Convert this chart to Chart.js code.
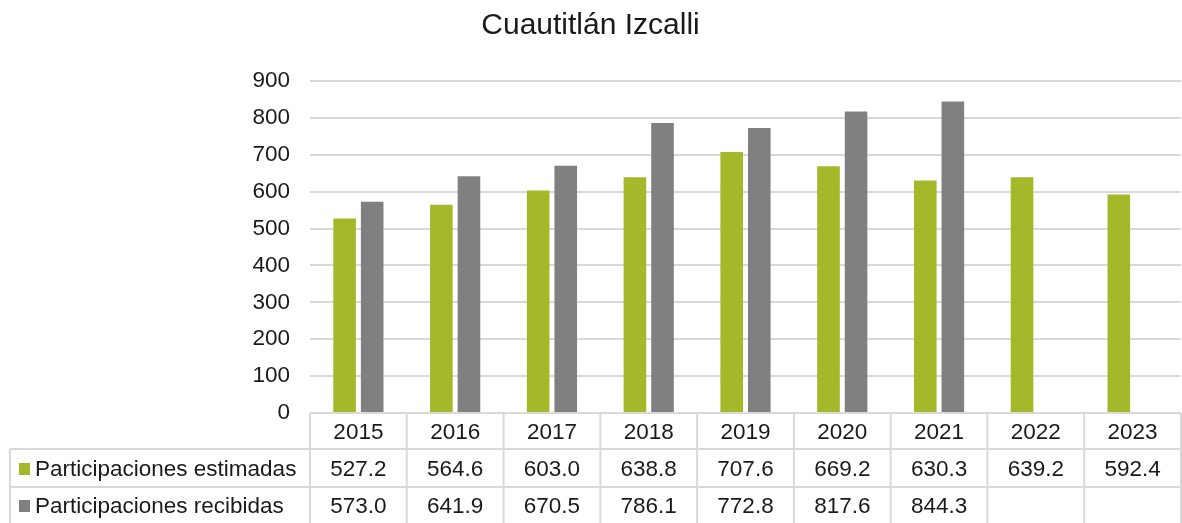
<!DOCTYPE html>
<html>
<head>
<meta charset="utf-8">
<script src="https://cdn.jsdelivr.net/npm/chart.js@4.4.0/dist/chart.umd.min.js"></script>
<style>
  html, body { margin: 0; padding: 0; background: #fff; }
  #wrap { width: 1182px; height: 523px; }
</style>
</head>
<body>
<div id="wrap"><canvas id="chart"></canvas></div>
<script>
const years = ['2015', '2016', '2017', '2018', '2019', '2020', '2021', '2022', '2023'];
const estimadas = [527.2, 564.6, 603.0, 638.8, 707.6, 669.2, 630.3, 639.2, 592.4];
const recibidas = [573.0, 641.9, 670.5, 786.1, 772.8, 817.6, 844.3, null, null];
const seriesNames = ['Participaciones estimadas', 'Participaciones recibidas'];
const seriesColors = ['#a4b82a', '#808080'];

const FONT = '"Liberation Sans", Arial, sans-serif';
const LINE = '#d9d9d9';

// draws the data table under the plot, columns follow the x scale
const dataTable = {
    id: 'dataTable',
    afterDraw(chart) {
        const ctx = chart.ctx;
        const area = chart.chartArea;
        const x = chart.scales.x;
        const colW = (area.right - area.left) / years.length;
        const top = area.bottom;
        const rows = [top, top + 36, top + 74, chart.height];
        const tableLeft = 10;

        ctx.save();
        ctx.strokeStyle = LINE;
        ctx.lineWidth = 2;
        ctx.beginPath();
        ctx.moveTo(area.left, rows[0]); ctx.lineTo(area.right, rows[0]);
        ctx.moveTo(tableLeft, rows[1]); ctx.lineTo(area.right, rows[1]);
        ctx.moveTo(tableLeft, rows[2]); ctx.lineTo(area.right, rows[2]);
        ctx.moveTo(tableLeft, rows[1]); ctx.lineTo(tableLeft, rows[3]);
        for (let i = 0; i <= years.length; i++) {
            let px = area.left + i * colW;
            ctx.moveTo(px, rows[0]); ctx.lineTo(px, rows[3]);
        }
        ctx.stroke();

        ctx.fillStyle = '#1a1a1a';
        ctx.font = '22.5px ' + FONT;
        ctx.textAlign = 'center';
        ctx.textBaseline = 'middle';
        years.forEach((y, i) => {
            ctx.fillText(y, x.getPixelForValue(i), (rows[0] + rows[1]) / 2 + 2);
        });
        [estimadas, recibidas].forEach((vals, r) => {
            let cy = (rows[r + 1] + rows[r + 2]) / 2 + 2;
            vals.forEach((v, i) => {
                if (v !== null) ctx.fillText(v.toFixed(1), x.getPixelForValue(i), cy);
            });
            ctx.fillStyle = seriesColors[r];
            ctx.fillRect(19, cy - 7, 11, 12);
            ctx.fillStyle = '#1a1a1a';
            ctx.textAlign = 'left';
            ctx.fillText(seriesNames[r], 35, cy);
            ctx.textAlign = 'center';
        });
        ctx.restore();
    }
};

new Chart(document.getElementById('chart'), {
    type: 'bar',
    data: {
        labels: years,
        datasets: [
            {
                label: seriesNames[0],
                data: estimadas,
                backgroundColor: seriesColors[0],
                categoryPercentage: 0.57,
                barPercentage: 0.82,
            },
            {
                label: seriesNames[1],
                data: recibidas,
                backgroundColor: seriesColors[1],
                categoryPercentage: 0.57,
                barPercentage: 0.82,
            },
        ],
    },
    options: {
        responsive: true,
        maintainAspectRatio: false,
        animation: false,
        layout: { padding: { left: 0, right: 1, bottom: 110 } },
        plugins: {
            legend: { display: false },
            tooltip: { enabled: false },
            title: {
                display: true,
                text: 'Cuautitlán Izcalli',
                color: '#1a1a1a',
                font: { family: FONT, size: 30, weight: 'normal' },
                padding: { top: 8, bottom: 37 },
            },
        },
        scales: {
            x: {
                display: false,
            },
            y: {
                min: 0,
                max: 900,
                ticks: {
                    stepSize: 100,
                    color: '#1a1a1a',
                    font: { family: FONT, size: 22.5 },
                    padding: 20,
                },
                grid: { color: LINE, lineWidth: 2, drawTicks: false },
                border: { display: false },
                afterFit(scale) { scale.width = 310; },
            },
        },
    },
    plugins: [dataTable],
});
</script>
</body>
</html>
